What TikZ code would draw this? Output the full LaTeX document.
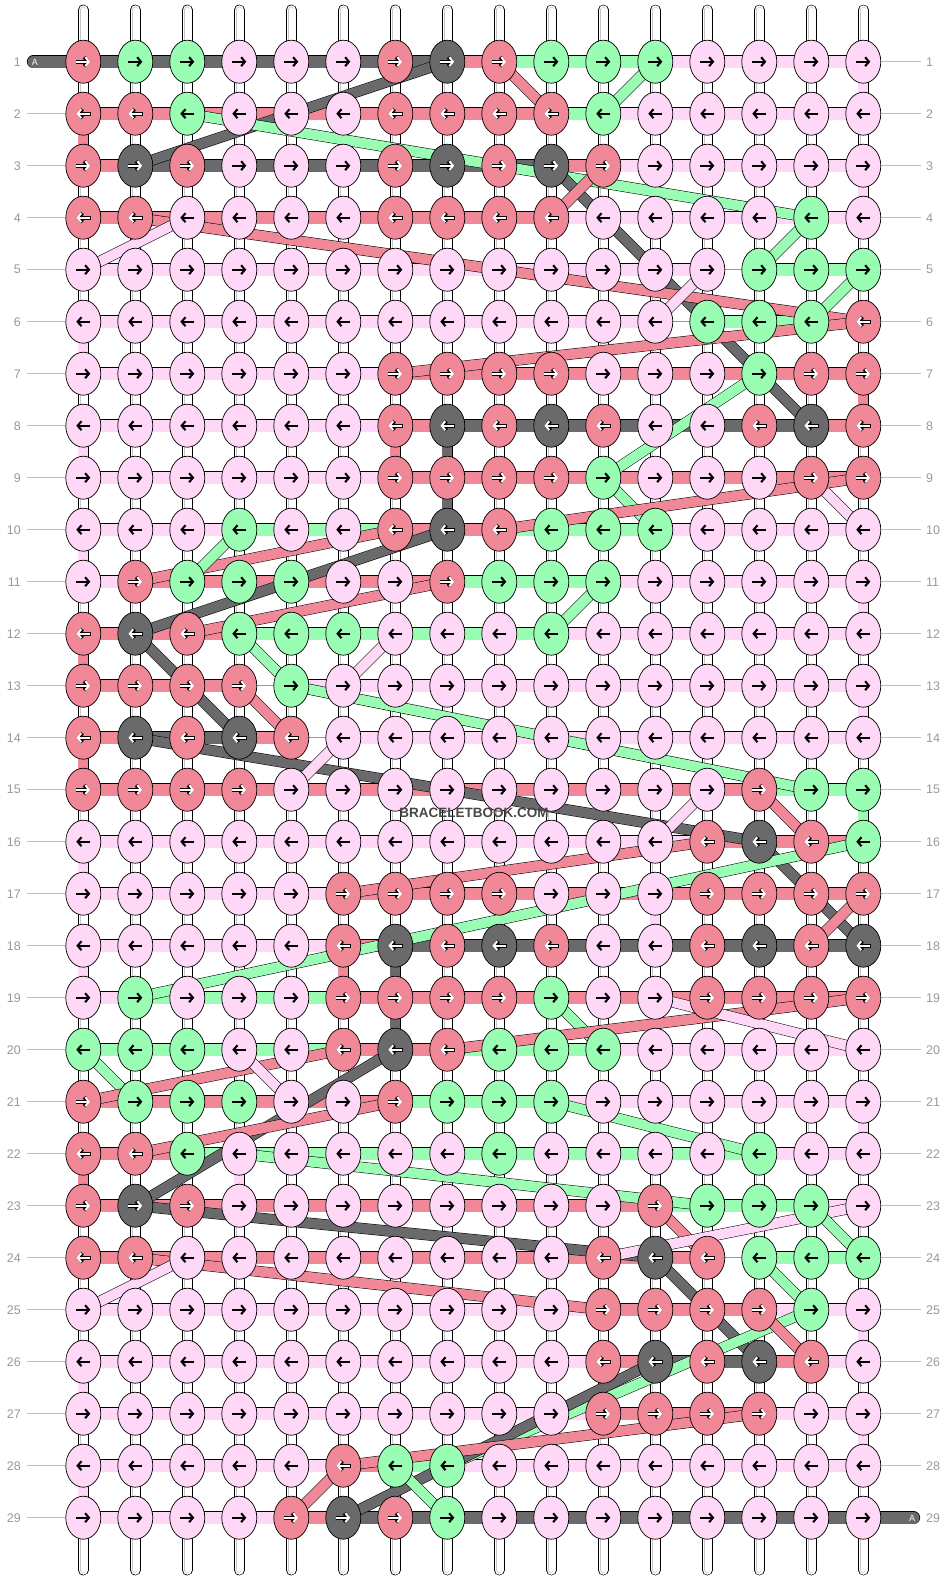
\documentclass[tikz,border=0pt]{standalone}
\usepackage{fontspec}
\setmainfont{Liberation Sans}
\usetikzlibrary{shapes.geometric, arrows.meta}

\definecolor{cP}{HTML}{FFD8F8}
\definecolor{cR}{HTML}{F08898}
\definecolor{cG}{HTML}{99FDB3}
\definecolor{cK}{HTML}{6A696B}

% row / knot colours / colours of the links between neighbouring knots
\def\patternrows{
1/{R,G,G,P,P,P,R,K,R,G,G,G,P,P,P,P}/{K,K,K,K,K,K,K,R,G,G,G,P,P,P,P},
2/{R,R,G,P,P,P,R,R,R,R,G,P,P,P,P,P}/{R,R,R,R,R,R,R,R,R,G,P,P,P,P,P},
3/{R,K,R,P,P,P,R,K,R,K,R,P,P,P,P,P}/{R,K,K,K,K,K,K,K,K,R,P,P,P,P,P},
4/{R,R,P,P,P,P,R,R,R,R,P,P,P,P,G,P}/{R,R,R,R,R,R,R,R,R,P,P,P,P,P,P},
5/{P,P,P,P,P,P,P,P,P,P,P,P,P,G,G,G}/{P,P,P,P,P,P,P,P,P,P,P,P,N,G,G},
6/{P,P,P,P,P,P,P,P,P,P,P,P,G,G,G,R}/{P,P,P,P,P,P,P,P,P,P,P,N,G,G,R},
7/{P,P,P,P,P,P,R,R,R,R,P,P,P,G,R,R}/{P,P,P,P,P,P,R,R,R,R,R,R,R,R,R},
8/{P,P,P,P,P,P,R,K,R,K,R,P,P,R,K,R}/{P,P,P,P,P,P,R,K,K,K,K,K,K,K,R},
9/{P,P,P,P,P,P,R,R,R,R,G,P,P,P,R,R}/{P,P,P,P,P,P,R,R,R,R,R,R,R,R,R},
10/{P,P,P,G,P,P,R,K,R,G,G,G,P,P,P,P}/{P,P,P,G,G,G,R,R,G,G,G,P,P,P,P},
11/{P,R,G,G,G,P,P,R,G,G,G,P,P,P,P,P}/{P,R,R,R,R,R,R,G,G,G,P,P,P,P,P},
12/{R,K,R,G,G,G,P,P,P,G,P,P,P,P,P,P}/{R,R,R,G,G,G,G,G,G,P,P,P,P,P,P},
13/{R,R,R,R,G,P,P,P,P,P,P,P,P,P,P,P}/{R,R,R,N,P,P,P,P,P,P,P,P,P,P,P},
14/{R,K,R,K,R,P,P,P,P,P,P,P,P,P,P,P}/{R,K,K,R,N,P,P,P,P,P,P,P,P,P,P},
15/{R,R,R,R,P,P,P,P,P,P,P,P,P,R,G,G}/{R,R,R,R,R,R,R,R,R,R,R,R,R,G,G},
16/{P,P,P,P,P,P,P,P,P,P,P,P,R,K,R,G}/{P,P,P,P,P,P,P,P,P,P,P,P,R,R,R},
17/{P,P,P,P,P,R,R,R,R,P,P,P,R,R,R,R}/{P,P,P,P,P,R,R,R,R,R,R,R,R,R,R},
18/{P,P,P,P,P,R,K,R,K,R,P,P,R,K,R,K}/{P,P,P,P,P,R,K,K,K,K,K,K,K,K,K},
19/{P,G,P,P,P,R,R,R,R,G,P,P,R,R,R,R}/{P,G,G,G,G,R,R,R,R,R,R,R,R,R,R},
20/{G,G,G,P,P,R,K,R,G,G,G,P,P,P,P,P}/{G,G,G,G,G,R,R,G,G,G,P,P,P,P,P},
21/{R,G,G,G,P,P,R,G,G,G,P,P,P,P,P,P}/{R,R,R,R,R,R,G,G,G,P,P,P,P,P,P},
22/{R,R,G,P,P,P,P,P,G,P,P,P,P,G,P,P}/{R,R,G,G,G,G,G,G,G,G,G,G,G,P,P},
23/{R,K,R,P,P,P,P,P,P,P,P,R,G,G,G,P}/{R,R,R,R,R,R,R,R,R,R,R,G,G,G,P},
24/{R,R,P,P,P,P,P,P,P,P,R,K,R,G,G,G}/{R,R,R,R,R,R,R,R,R,R,R,R,N,G,G},
25/{P,P,P,P,P,P,P,P,P,P,R,R,R,R,G,P}/{P,P,P,P,P,P,P,P,P,P,R,R,R,P,P},
26/{P,P,P,P,P,P,P,P,P,P,R,K,R,K,R,P}/{P,P,P,P,P,P,P,P,P,P,R,K,K,R,P},
27/{P,P,P,P,P,P,P,P,P,P,R,R,R,R,P,P}/{P,P,P,P,P,P,P,P,P,P,R,R,R,P,P},
28/{P,P,P,P,P,R,G,G,P,P,P,P,P,P,P,P}/{P,P,P,P,P,R,G,P,P,P,P,P,P,P,P},
29/{P,P,P,P,R,K,R,G,P,P,P,P,P,P,P,P}/{P,P,P,P,R,K,K,K,K,K,K,K,K,K,K}}

\begin{document}
\begin{tikzpicture}[x=1pt, y=-1pt,
  knot/.style = {ellipse, draw=black, line width=0.7pt, minimum width=35pt, minimum height=43pt, inner sep=0pt},
  link/.style = {draw=black, line width=0.6pt, double=#1, double distance=12pt},
  linkP/.style = {link=cP}, linkR/.style = {link=cR},
  linkG/.style = {link=cG}, linkK/.style = {link=cK},
  linkN/.style = {draw=black!40, line width=0.6pt},
  vlink/.style = {draw=black, line width=0.6pt, double=#1, double distance=10pt},
  diag/.style = {draw=black, line width=0.5pt, double=#1, double distance=10pt},
  warp/.style = {draw=black, line width=0.6pt, double=white, double distance=9.5pt, line cap=round},
  warpin/.style = {draw=black!22, line width=0.5pt, double=white, double distance=5pt, line cap=round},
  endband/.style = {draw=black, line width=0.6pt, double=cK, double distance=12pt, line cap=round},
  tipshape/.style = {-{Straight Barb[length=3.8pt, width=9pt]}},
  arrowP/.style = {tipshape, draw=black, line width=2.1pt},
  arrowG/.style = {arrowP},
  arrowR/.style = {tipshape, draw=white, line width=1.9pt},
  arrowK/.style = {arrowR},
  backP/.style = {draw=none}, backG/.style = {draw=none},
  backR/.style = {tipshape, draw=black, line width=3.6pt},
  backK/.style = {backR},
  rowlabel/.style = {inner sep=0pt, text=black!40, font=\fontsize{12.5}{13}\selectfont},
  rowline/.style = {draw=black!25, line width=0.8pt}]

  \useasboundingbox (0,0) rectangle (948,1580);

  \foreach \rw in {1,...,29}
    \foreach \ix in {1,...,16}
      \coordinate (k-\rw-\ix) at ({83.3+52*(\ix-1)}, {61.7+52*(\rw-1)});

  % warp strings
  \foreach \ix in {1,...,16} {
    \coordinate (wt-\ix) at ({83.3+52*(\ix-1)}, 10);
    \coordinate (wb-\ix) at ({83.3+52*(\ix-1)}, 1570);
    \draw[warp] (wt-\ix) -- (wb-\ix);
    \draw[warpin] (wt-\ix) -- (wb-\ix);
  }

  % links along each row
  \foreach \rw/\ks/\ls in \patternrows {
    \foreach \lk [count=\ix] in \ls {
      \pgfmathtruncatemacro\jx{\ix+1}
      \draw[link\lk] (k-\rw-\ix) -- (k-\rw-\jx);
    }
  }

  % coloured links between rows
  \foreach \cc/\ra/\cl in {16/1/P, 16/3/P, 16/7/R, 16/11/P, 16/13/P, 16/15/G, 16/21/P,
      16/25/P, 16/27/P, 1/2/R, 1/6/P, 1/8/P, 1/10/P, 1/12/R, 1/14/R, 1/16/P, 1/18/P,
      1/22/R, 1/26/P, 1/28/P, 7/8/R, 8/8/K, 8/9/K, 12/17/P, 6/18/R, 7/18/K, 7/19/K, 4/22/P} {
    \pgfmathtruncatemacro\rb{\ra+1}
    \draw[vlink=c\cl] (k-\ra-\cc) -- (k-\rb-\cc);
  }

  \coordinate (a-in) at (33.5,61.7);
  \coordinate (a-out) at (913.5,1517.7);
  \draw[endband] (a-in) -- (k-1-1);
  \draw[endband] (k-29-16) -- (a-out);

  % threads jumping between rows
  \foreach \ca/\ra/\cb/\rb/\cl in {8/1/2/3/K, 9/1/10/2/R, 12/1/11/2/G, 3/2/15/4/G,
      10/3/15/8/K, 11/3/10/4/R, 2/4/16/6/R, 3/4/1/5/P, 15/4/14/5/G, 16/5/15/6/G,
      13/5/12/6/P, 16/6/7/7/R, 14/7/11/9/G, 11/9/12/10/G, 15/9/16/10/P, 16/9/9/10/R,
      7/10/2/11/R, 4/10/3/11/G, 8/10/2/12/K, 8/11/3/12/R, 11/11/10/12/G, 2/12/4/14/K,
      4/12/5/13/G, 7/12/6/13/P, 4/13/5/14/R, 5/13/15/15/G, 2/14/14/16/K, 6/14/5/15/P,
      14/15/15/16/R, 13/15/12/16/P, 14/16/16/18/K, 13/16/6/17/R, 16/16/2/19/G,
      16/17/15/18/R, 10/19/11/20/G, 16/19/8/20/R, 12/19/16/20/P, 1/20/2/21/G,
      6/20/1/21/R, 4/20/5/21/P, 7/20/2/23/K, 7/21/2/22/R, 10/21/14/22/G, 4/22/13/23/G,
      2/23/12/24/K, 12/23/13/24/R, 16/23/11/24/P, 15/23/16/24/G, 14/24/15/25/G,
      2/24/11/25/R, 3/24/1/25/P, 12/24/14/26/K, 15/25/8/28/G, 14/25/15/26/R,
      12/26/6/29/K, 14/27/6/28/R, 6/28/5/29/R, 7/28/8/29/G}
    \draw[diag=c\cl] (k-\ra-\ca) -- (k-\rb-\cb);

  % knots
  \foreach \rw/\ks/\ls in \patternrows {
    \foreach \kc [count=\ix] in \ks {
      \node[knot, fill=c\kc] (o-\rw-\ix) at (k-\rw-\ix) {};
      \ifodd\rw
        \draw[back\kc] ([xshift=-7.5pt]o-\rw-\ix.center) -- ([xshift=7pt]o-\rw-\ix.center);
        \draw[arrow\kc] ([xshift=-7pt]o-\rw-\ix.center) -- ([xshift=7pt]o-\rw-\ix.center);
      \else
        \draw[back\kc] ([xshift=7.5pt]o-\rw-\ix.center) -- ([xshift=-7pt]o-\rw-\ix.center);
        \draw[arrow\kc] ([xshift=7pt]o-\rw-\ix.center) -- ([xshift=-7pt]o-\rw-\ix.center);
      \fi
    }
  }

  \node[inner sep=0pt, text=white, font=\fontsize{9}{10}\selectfont] (a-top) at (35,62) {A};
  \node[inner sep=0pt, text=white, font=\fontsize{9}{10}\selectfont] (a-bot) at (912,1518) {A};

  % row numbers
  \foreach \rw in {1,...,29} {
    \pgfmathsetmacro\yy{61.7+52*(\rw-1)}
    \node[rowlabel, anchor=east] (ll-\rw) at (21,\yy) {\rw};
    \node[rowlabel, anchor=west] (lr-\rw) at (926,\yy) {\rw};
  }
  \foreach \rw in {2,...,29}
    \draw[rowline] ([xshift=6pt]ll-\rw.east) -- (o-\rw-1.west);
  \foreach \rw in {1,...,28}
    \draw[rowline] (o-\rw-16.east) -- ([xshift=-5pt]lr-\rw.west);

  \node[font=\bfseries\fontsize{13.5}{14}\selectfont, text=black!72] (mark) at (474,813) {BRACELETBOOK.COM};
\end{tikzpicture}
\end{document}
